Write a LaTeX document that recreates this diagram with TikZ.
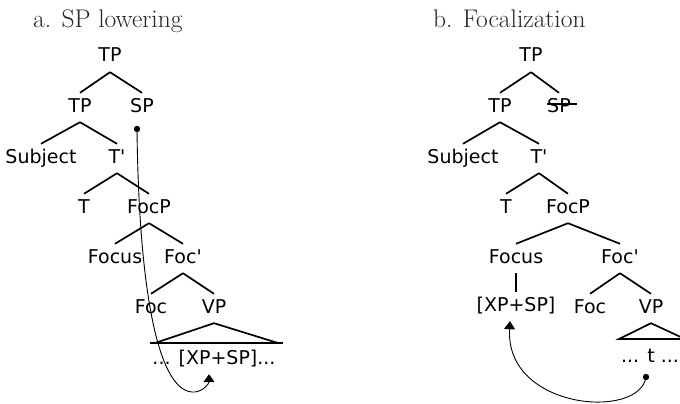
\documentclass[tikz,border=0pt]{standalone}
\usepackage{fontspec}
\newfontfamily\labelfont{DejaVu Sans}[Ligatures=TeXOff]
\usetikzlibrary{arrows.meta,calc}
\begin{document}
\tikzset{
  lbl/.style={font=\fontsize{19}{19}\selectfont\labelfont, text height=14pt, text depth=5pt,
              inner xsep=0pt, inner ysep=5pt, anchor=base},
  heading/.style={font=\fontsize{25.5}{26}\selectfont, anchor=base west, inner sep=0pt, text=black!85},
  branch/.style={line width=1.7pt},
  move/.style={line width=0.9pt, -{Triangle[width=11pt,length=8pt]}},
}
\begin{tikzpicture}[x=1pt,y=-1pt]
\clip (0,0) rectangle (680,404);

% headings
\node[heading] (ha) at (33,28) {a. SP lowering};
\node[heading] (hb) at (433,28) {b. Focalization};

% ---- tree a: SP lowering ----
\node[lbl] (aTP)    at (110,62)  {TP};
\node[lbl] (aTPl)   at (80,112)  {TP};
\node[lbl] (aSP)    at (142,112) {SP};
\node[lbl] (aSubj)  at (41,163)  {Subject};
\node[lbl] (aTbar)  at (117,163) {T'};
\node[lbl] (aT)     at (84,213)  {T};
\node[lbl] (aFocP)  at (149,213) {FocP};
\node[lbl] (aFocus) at (115,263) {Focus};
\node[lbl] (aFocb)  at (183,263) {Foc'};
\node[lbl] (aFoc)   at (151,313) {Foc};
\node[lbl] (aVP)    at (214,313) {VP};
\node[lbl] (aYield) at (214,364) {... [XP+SP]...};

\draw[branch] (aTP.south) -- (aTPl.north);
\draw[branch] (aTP.south) -- (aSP.north);
\draw[branch] (aTPl.south) -- (aSubj.north);
\draw[branch] (aTPl.south) -- (aTbar.north);
\draw[branch] (aTbar.south) -- (aT.north);
\draw[branch] (aTbar.south) -- (aFocP.north);
\draw[branch] (aFocP.south) -- (aFocus.north);
\draw[branch] (aFocP.south) -- (aFocb.north);
\draw[branch] (aFocb.south) -- (aFoc.north);
\draw[branch] (aFocb.south) -- (aVP.north);

% VP triangle
\coordinate (aL)  at (155,343);
\coordinate (aR)  at (278,343);
\coordinate (aBL) at (150,343);
\coordinate (aBR) at (283,343);
\draw[branch, line join=miter] (aL) -- (aVP.south) -- (aR);
\draw[line width=2.4pt] (aBL) -- (aBR);

% lowering arrow
\coordinate (aSrc) at (137,129);
\coordinate (aBot) at (195,392);
\fill (aSrc) circle (3.2);
\draw[move] (aSrc) .. controls (139,300) and (160,395) .. (aBot)
            .. controls (203,391) and (209,384) .. ([xshift=-5pt]aYield.south);

% ---- tree b: Focalization ----
\node[lbl] (bTP)    at (531,62)  {TP};
\node[lbl] (bTPl)   at (500,112) {TP};
\node[lbl] (bSP)    at (559,112) {SP};
\node[lbl] (bSubj)  at (463,163) {Subject};
\node[lbl] (bTbar)  at (539,163) {T'};
\node[lbl] (bT)     at (506,213) {T};
\node[lbl] (bFocP)  at (568,213) {FocP};
\node[lbl] (bFocus) at (516,263) {Focus};
\node[lbl] (bFocb)  at (620,263) {Foc'};
\node[lbl] (bXP)    at (516,311) {[XP+SP]};
\node[lbl] (bFoc)   at (590,313) {Foc};
\node[lbl] (bVP)    at (651,313) {VP};
\node[lbl] (bYield) at (650,362) {... t ...};

% struck-out SP
\draw[line width=1.2pt] ([yshift=8pt]bSP.base west) -- ([xshift=6pt,yshift=8pt]bSP.base east);

\draw[branch] (bTP.south) -- (bTPl.north);
\draw[branch] (bTP.south) -- (bSP.north);
\draw[branch] (bTPl.south) -- (bSubj.north);
\draw[branch] (bTPl.south) -- (bTbar.north);
\draw[branch] (bTbar.south) -- (bT.north);
\draw[branch] (bTbar.south) -- (bFocP.north);
\draw[branch] (bFocP.south) -- (bFocus.north);
\draw[branch] (bFocP.south) -- (bFocb.north);
\draw[branch] (bFocus.south) -- (bXP.north);
\draw[branch] (bFocb.south) -- (bFoc.north);
\draw[branch] (bFocb.south) -- (bVP.north);

% VP triangle
\coordinate (bL) at (619,339);
\coordinate (bR) at (685,339);
\draw[branch, line join=miter] (bL) -- (bVP.south) -- (bR) -- cycle;

% focalization arrow
\coordinate (bSrc) at (646,377);
\fill (bSrc) circle (3.2);
\draw[move] (bSrc) .. controls (640,420) and (505,410) .. ([xshift=-6pt]bXP.south);
\end{tikzpicture}
\end{document}
